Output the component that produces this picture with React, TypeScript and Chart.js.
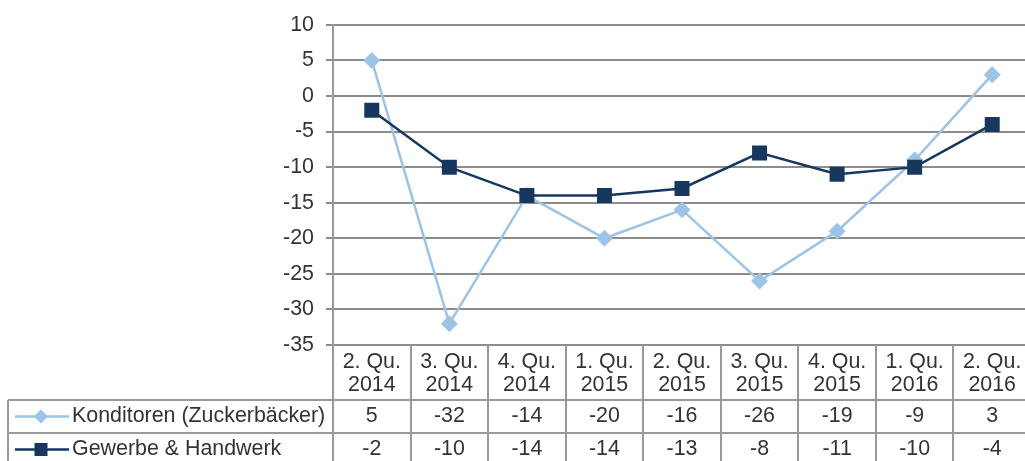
import React, { useEffect, useRef } from "react";
import { Chart, registerables } from "chart.js";

Chart.register(...registerables);

const categories: string[][] = [
  ["2. Qu.", "2014"],
  ["3. Qu.", "2014"],
  ["4. Qu.", "2014"],
  ["1. Qu.", "2015"],
  ["2. Qu.", "2015"],
  ["3. Qu.", "2015"],
  ["4. Qu.", "2015"],
  ["1. Qu.", "2016"],
  ["2. Qu.", "2016"],
];
const konditorenLabel = "Konditoren (Zuckerbäcker)";
const konditoren = [5, -32, -14, -20, -16, -26, -19, -9, 3];
const gewerbeLabel = "Gewerbe & Handwerk";
const gewerbe = [-2, -10, -14, -14, -13, -8, -11, -10, -4];
const yMin = -35;
const yMax = 10;
const yStep = 5;

const LIGHT = "#9dc3e6";
const DARK = "#17375e";
const GRID = "#8c8c8c";
const BORDER = "#999999";
const TEXT = "#333333";
const FONT_FAMILY = "'Liberation Sans', Arial, sans-serif";
const FONT_SIZE = 21.4;
const FONT = `${FONT_SIZE}px ${FONT_FAMILY}`;

const tablePlugin = {
  id: "dataTable",
  afterDraw(chart: any) {
    const ctx = chart.ctx as CanvasRenderingContext2D;
    const area = chart.chartArea;
    const xScale = chart.scales.x;
    const n = categories.length;
    const w = (area.right - area.left) / n;
    const H = chart.height;
    const top = area.bottom;
    const row1 = top + 55;
    const row2 = row1 + 33;
    const row3 = row2 + 33;
    const legendLeft = 8;
    ctx.save();
    ctx.strokeStyle = BORDER;
    ctx.lineWidth = 2;
    ctx.beginPath();
    for (let i = 0; i <= n; i++) {
      const x = Math.round(area.left + i * w);
      ctx.moveTo(x, top);
      ctx.lineTo(x, H);
    }
    ctx.moveTo(legendLeft, row1);
    ctx.lineTo(legendLeft, H);
    ctx.moveTo(legendLeft, row1);
    ctx.lineTo(area.right, row1);
    ctx.moveTo(legendLeft, row2);
    ctx.lineTo(area.right, row2);
    ctx.moveTo(legendLeft, row3);
    ctx.lineTo(area.right, row3);
    ctx.stroke();

    ctx.fillStyle = TEXT;
    ctx.font = FONT;
    ctx.textAlign = "center";
    ctx.textBaseline = "middle";
    categories.forEach((c, i) => {
      const x = xScale.getPixelForValue(i);
      ctx.fillText(c[0], x, top + 17);
      ctx.fillText(c[1], x, top + 40);
      ctx.fillText(String(konditoren[i]), x, (row1 + row2) / 2);
      ctx.fillText(String(gewerbe[i]), x, (row2 + row3) / 2);
    });

    const drawKey = (y: number, color: string, style: string, label: string) => {
      ctx.strokeStyle = color;
      ctx.lineWidth = 2.5;
      ctx.beginPath();
      ctx.moveTo(15, y);
      ctx.lineTo(69, y);
      ctx.stroke();
      ctx.fillStyle = color;
      ctx.beginPath();
      if (style === "diamond") {
        const r = 7;
        ctx.moveTo(41, y - r);
        ctx.lineTo(41 + r, y);
        ctx.lineTo(41, y + r);
        ctx.lineTo(41 - r, y);
        ctx.closePath();
      } else {
        ctx.rect(41 - 6.5, y - 6.5, 13, 13);
      }
      ctx.fill();
      ctx.fillStyle = TEXT;
      ctx.textAlign = "left";
      ctx.fillText(label, 72, y);
    };
    drawKey((row1 + row2) / 2, LIGHT, "diamond", konditorenLabel);
    drawKey((row2 + row3) / 2, DARK, "square", gewerbeLabel);
    ctx.restore();
  },
};

export default function App() {
  const ref = useRef<HTMLCanvasElement | null>(null);
  useEffect(() => {
    if (!ref.current) return;
    const chart = new Chart(ref.current, {
      type: "line",
      data: {
        labels: categories.map((c) => c.join(" ")),
        datasets: [
          {
            label: konditorenLabel,
            data: konditoren,
            borderColor: LIGHT,
            backgroundColor: LIGHT,
            borderWidth: 2.5,
            pointStyle: "rectRot",
            pointRadius: 8.5,
            pointBorderWidth: 0,
            tension: 0,
            order: 1,
          },
          {
            label: gewerbeLabel,
            data: gewerbe,
            borderColor: DARK,
            backgroundColor: DARK,
            borderWidth: 2.5,
            pointStyle: "rect",
            pointRadius: 10.6,
            pointBorderWidth: 0,
            tension: 0,
            order: 0,
          },
        ],
      },
      options: {
        animation: false,
        responsive: false,
        devicePixelRatio: 1,
        layout: { autoPadding: false, padding: { top: 21, left: 0, right: 0, bottom: 0 } },
        plugins: { legend: { display: false }, tooltip: { enabled: false } },
        scales: {
          x: {
            type: "category",
            offset: true,
            grid: { display: false, drawTicks: false },
            border: { display: false },
            ticks: { display: false },
            afterFit: (s: any) => {
              s.height = 116;
            },
          },
          y: {
            min: yMin,
            max: yMax,
            ticks: {
              stepSize: yStep,
              color: TEXT,
              font: { family: FONT_FAMILY, size: FONT_SIZE },
              padding: 12,
            },
            grid: { color: GRID, lineWidth: 2, tickLength: 7, tickColor: GRID },
            border: { display: true, color: BORDER, width: 2 },
            afterFit: (s: any) => {
              s.width = 333;
            },
          },
        },
      },
      plugins: [tablePlugin],
    });
    return () => chart.destroy();
  }, []);
  return (
    <div
      style={{
        position: "fixed",
        left: 0,
        top: 0,
        width: 1025,
        height: 461,
        overflow: "hidden",
        background: "#fff",
      }}
    >
      <canvas ref={ref} width={1031} height={461} style={{ display: "block" }} />
    </div>
  );
}
